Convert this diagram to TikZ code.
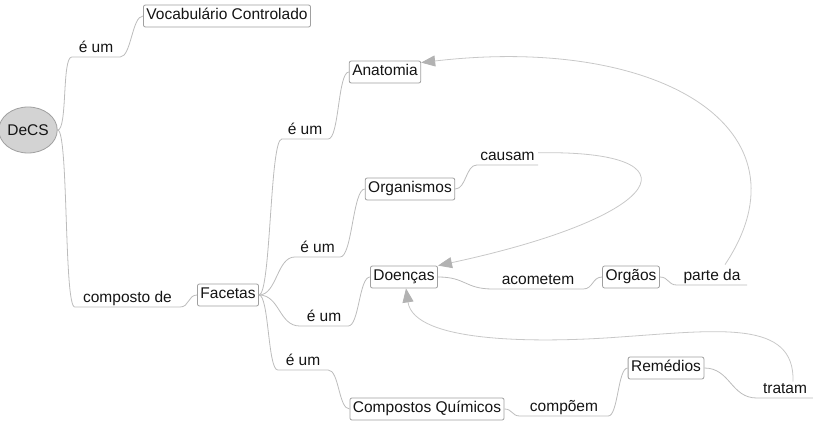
\documentclass[tikz,border=0pt]{standalone}
\usepackage{fontspec}
\setmainfont{Liberation Sans}
\usetikzlibrary{arrows.meta,shapes.geometric}
\definecolor{edgec}{RGB}{188,188,188}
\definecolor{linkc}{RGB}{200,200,200}
\definecolor{arrc}{RGB}{178,178,178}
\definecolor{boxc}{RGB}{160,160,160}
\definecolor{rootfill}{RGB}{211,211,211}
\definecolor{txtc}{RGB}{20,20,20}
\begin{document}
\begin{tikzpicture}[x=1pt,y=-1pt,
  every node/.style={font=\fontsize{15.5}{18}\selectfont, text=txtc},
  box/.style={draw=boxc, rounded corners=2pt, line width=0.8pt, fill=white, inner xsep=3pt, inner ysep=3.5pt, text height=11pt, text depth=4pt},
  root/.style={ellipse, draw=boxc, fill=rootfill, line width=0.8pt, minimum width=50pt, minimum height=46pt, inner sep=0pt},
  lbl/.style={anchor=south, inner xsep=0pt, inner ysep=0.5pt, text height=11.5pt, text depth=3.5pt},
  edge/.style={draw=edgec, line width=0.8pt},
  xlink/.style={draw=linkc, line width=0.8pt, -{Triangle[length=14pt,width=11pt,color=arrc]}}
]
\useasboundingbox (0,0) rectangle (813,422);

% nodes
\node[root] (decs) at (28,130) {DeCS};
\node[box] (voc) at (227,16) {Vocabulário Controlado};
\node[box] (fac) at (228,295) {Facetas};
\node[box] (anat) at (385,72) {Anatomia};
\node[box] (org) at (410,189) {Organismos};
\node[box] (doen) at (404,277) {Doenças};
\node[box] (cq) at (427,409) {Compostos Químicos};
\node[box] (orgaos) at (631,277) {Orgãos};
\node[box] (rem) at (666,368) {Remédios};

% labels
\node[lbl, minimum width=48pt] (l1) at (96,57) {é um};
\node[lbl, minimum width=105pt] (l2) at (127.5,307) {composto de};
\node[lbl, minimum width=46pt] (l3) at (305,139) {é um};
\node[lbl, minimum width=45pt] (l4) at (317.5,257) {é um};
\node[lbl, minimum width=48pt] (l5) at (324,326) {é um};
\node[lbl, minimum width=50pt] (l6) at (303,370) {é um};
\node[lbl, minimum width=61pt] (l7) at (507.5,165) {causam};
\node[lbl, minimum width=90pt] (l8) at (538,289) {acometem};
\node[lbl, minimum width=70pt] (l9) at (712,285) {parte da};
\node[lbl, minimum width=88pt] (l10) at (564,416) {compõem};
\node[lbl, minimum width=56pt] (l11) at (785,398) {tratam};

% tree edges
\draw[edge] (decs.east) .. controls +(10,0) and +(-10,0) .. (l1.south west) -- (l1.south east)
  .. controls +(11,0) and +(-11,0) .. (voc.west);
\draw[edge] (decs.east) .. controls +(11,0) and +(-11,0) .. (l2.south west) -- (l2.south east)
  .. controls +(9,0) and +(-9,0) .. (fac.west);
\draw[edge] (fac.east) .. controls +(12,0) and +(-12,0) .. (l3.south west) -- (l3.south east)
  .. controls +(11,0) and +(-11,0) .. (anat.west);
\draw[edge] (fac.east) .. controls +(18,0) and +(-18,0) .. (l4.south west) -- (l4.south east)
  .. controls +(12,0) and +(-12,0) .. (org.west);
\draw[edge] (fac.east) .. controls +(21,0) and +(-21,0) .. (l5.south west) -- (l5.south east)
  .. controls +(11,0) and +(-11,0) .. (doen.west);
\draw[edge] (fac.east) .. controls +(10,0) and +(-10,0) .. (l6.south west) -- (l6.south east)
  .. controls +(11,0) and +(-11,0) .. (cq.west);
\draw[edge] (org.east) .. controls +(11,0) and +(-11,0) .. (l7.south west) -- (l7.south east);
\draw[edge] (doen.east) .. controls +(28,0) and +(-28,0) .. (l8.south west) -- (l8.south east)
  .. controls +(10,0) and +(-10,0) .. (orgaos.west);
\draw[edge] (orgaos.east) .. controls +(9,0) and +(-9,0) .. (l9.south west) -- (l9.south east);
\draw[edge] (cq.east) .. controls +(8,0) and +(-8,0) .. (l10.south west) -- (l10.south east)
  .. controls +(10,0) and +(-10,0) .. (rem.west);
\draw[edge] (rem.east) .. controls +(26,0) and +(-26,0) .. (l11.south west) -- (l11.south east);

% cross links
\coordinate (a3m) at (620,337);
\draw[xlink] ([yshift=4pt]l7.east) .. controls +(163,-3) and +(232,-50) .. (doen.north east);
\draw[xlink] ([xshift=13pt,yshift=4pt]l9.north) .. controls +(90,-135) and +(240,-28) .. ([yshift=-2pt]anat.north east);
\draw[xlink] ([xshift=8pt]l11.north) .. controls +(2,-62) and +(100,-7) .. (a3m)
  .. controls +(-80,6) and +(8,55) .. ([xshift=2pt]doen.south);
\end{tikzpicture}
\end{document}
